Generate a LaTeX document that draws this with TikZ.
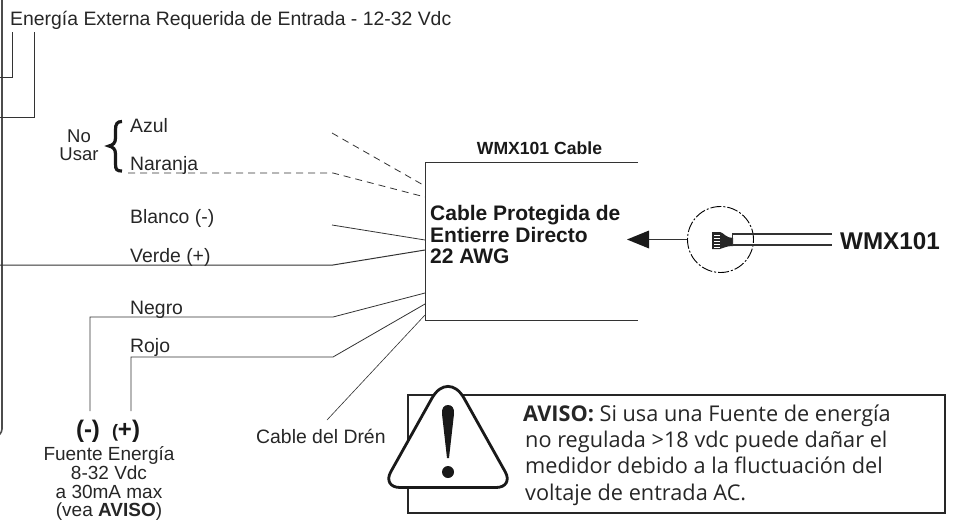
\documentclass[tikz,border=0pt]{standalone}
\usepackage{fontspec}
\setmainfont{Liberation Sans}
\newfontfamily\avisofont{Open Sans}
\tikzset{
  wire/.style={line width=0.8pt,black!80},
  dashwire/.style={wire,dash pattern=on 7pt off 5pt},
  lab/.style={inner sep=0pt,anchor=base west,font=\fontsize{19.4}{21}\selectfont,text=black!85},
  small/.style={inner sep=0pt,anchor=base,font=\fontsize{19}{21}\selectfont,text=black!85},
  heavy/.style={inner sep=0pt,anchor=base west,font=\bfseries\fontsize{21}{22}\selectfont,text=black!90},
  sign/.style={inner sep=0pt,anchor=base,font=\bfseries\fontsize{24}{26}\selectfont,text=black!90},
  aviso/.style={inner sep=0pt,anchor=base west,font=\avisofont\fontsize{21.7}{24}\selectfont,text=black!85}
}
\begin{document}
\begin{tikzpicture}[x=1pt,y=-1pt]
\useasboundingbox (0,0) rectangle (953,522);
% left enclosure edge
\draw[line width=1.6pt,black!70,rounded corners=3pt] (2,0) -- (2,432) -- (0,434);
% power-in
\node[lab] (ext) at (10,25) {Energía Externa Requerida de Entrada - 12-32 Vdc};
\coordinate (e1) at (12.5,32); \coordinate (e2) at (34.5,32);
\coordinate (l1) at (0,77); \coordinate (l2) at (0,117);
\draw[wire] (e1) -- (12.5,77) -- (l1);
\draw[wire] (e2) -- (34.5,117) -- (l2);
% labels
\node[small,font=\fontsize{18.5}{20}\selectfont] (no) at (79,142) {No};
\node[small,font=\fontsize{18.5}{20}\selectfont] (usar) at (79,160) {Usar};
\draw[line width=3.2pt,black!90] (122,121.5) .. controls (117,121.5) and (115.5,124) .. (115.5,130) -- (115.5,138) .. controls (115.5,143) and (113,145) .. (109,146) .. controls (113,147) and (115.5,149) .. (115.5,154) -- (115.5,164) .. controls (115.5,170) and (117,171) .. (122,171);
\node[lab] (azul) at (130,132) {Azul};
\node[lab] (naranja) at (130,170) {Naranja};
\node[lab] (blanco) at (130,223) {Blanco (-)};
\node[lab] (verde) at (130,262) {Verde (+)};
\node[lab] (negro) at (130,314) {Negro};
\node[lab] (rojo) at (130,352) {Rojo};
% cable box
\coordinate (bx1) at (638,162); \coordinate (bx2) at (425,162);
\coordinate (bx3) at (425,320); \coordinate (bx4) at (638,320);
\draw[wire] (bx1) -- (bx2) -- (bx3) -- (bx4);
\node[inner sep=0pt,anchor=base,font=\bfseries\fontsize{17.6}{19}\selectfont,text=black!90] (title) at (539.5,154) {WMX101 Cable};
\node[heavy] (cable1) at (430,220) {Cable Protegida de};
\node[heavy] (cable2) at (430,242) {Entierre Directo};
\node[heavy] (cable3) at (430,263) {22 AWG};
% wires to box
\coordinate (a1) at (332,133); \coordinate (a2) at (425,186);
\coordinate (n1) at (128,173); \coordinate (n2) at (425,197);
\coordinate (b1) at (332,225); \coordinate (b2) at (425,240);
\coordinate (v1) at (0,265); \coordinate (v2) at (425,250);
\coordinate (k1) at (90,411); \coordinate (k2) at (425,293);
\coordinate (r1) at (131,411); \coordinate (r2) at (425,304);
\coordinate (d1) at (327,420); \coordinate (d2) at (425,315);
\draw[dashwire] (a1) -- (a2);
\draw[dashwire] (n1) -- (333,173) -- (n2);
\draw[wire] (b1) -- (b2);
\draw[wire,line width=1pt] (v1) -- (333,265) -- (v2);
\draw[wire] (k1) -- (90,317) -- (333,317) -- (k2);
\draw[wire] (r1) -- (131,357) -- (333,357) -- (r2);
\draw[wire,line width=0.6pt] (d1) -- (d2);
% supply labels
\node[sign] (minus) at (88,437) {(-)};
\node[sign] (plus) at (126,437) {{\fontsize{18}{20}\selectfont(}+)};
\node[small] (f1) at (109,460) {Fuente Energía};
\node[small] (f2) at (109,479) {8-32 Vdc};
\node[small] (f3) at (109,498) {a 30mA max};
\node[small] (f4) at (109,516) {(vea \textbf{AVISO})};
\node[lab] (dren) at (256,443) {Cable del Drén};
% detail
\node[circle,minimum size=66pt,inner sep=0pt,draw,line width=0.9pt,dash pattern=on 11pt off 2pt on 2pt off 2pt] (det) at (720.5,239.5) {};
\fill[black!85] (712,232) -- (720,232) .. controls (724,233) and (726,238) .. (733,238) -- (733,246) .. controls (726,246) and (724,248) .. (720,249) -- (712,249) -- cycle;
\foreach \yy in {235,238,241,244,247}
  \draw[white,line width=0.4pt] (714,\yy) -- (720,\yy);
\draw[wire,line width=1.4pt] (732,234) -- (832,234);
\draw[wire,line width=1.4pt] (732,245) -- (832,245);
\draw[wire,line width=1pt] (732,234) -- (732,245);
\coordinate (tip) at (627,239.5);
\draw[line width=1.2pt,black!80] (det.west) -- (649,239.5);
\fill[black!90] (tip) -- (649,230.5) -- (649,248.5) -- cycle;
\node[inner sep=0pt,anchor=base west,font=\bfseries\fontsize{24.2}{26}\selectfont,text=black!90] (wmx) at (840,249) {WMX101};
% warning
\draw[line width=1.8pt,black!85] (408,395) rectangle (945,513);
\draw[line width=2.8pt,black!90,fill=white] (448,487.5) [rounded corners=18pt] -- (514,487.5) [rounded corners=33pt] -- (448,369.5) [rounded corners=18pt] -- (382,487.5) -- cycle;
\fill[black!90] (448,405) .. controls (452,405) and (454.5,408) .. (454,414) -- (449,458) -- (447,458) -- (442,414) .. controls (441.5,408) and (444,405) .. (448,405) -- cycle;
\fill[black!90] (448,472) circle (6pt);
\node[aviso] (av1) at (523,421) {\textbf{AVISO:} Si usa una Fuente de energía};
\node[aviso] (av2) at (525,447) {no regulada >18 vdc puede dañar el};
\node[aviso] (av3) at (525,473) {medidor debido a la fluctuación del};
\node[aviso] (av4) at (525,500) {voltaje de entrada AC.};
\end{tikzpicture}
\end{document}
